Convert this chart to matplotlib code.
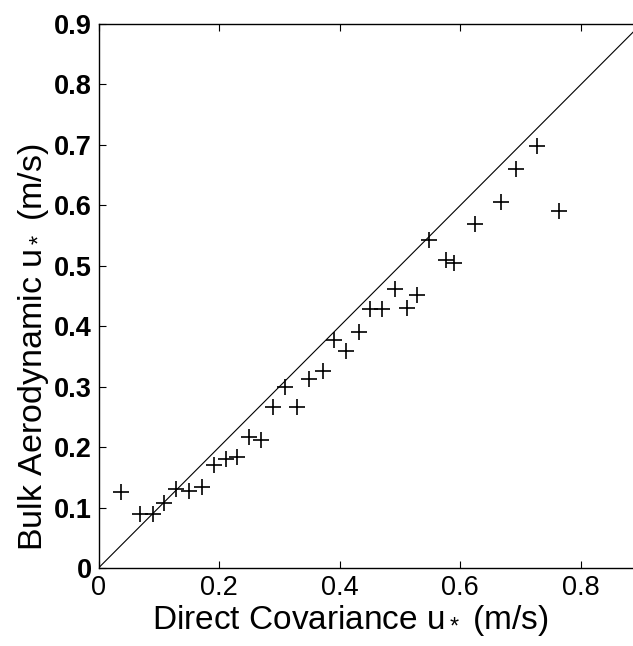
import matplotlib
matplotlib.use("Agg")
import matplotlib.pyplot as plt

plt.rcParams['font.family'] = ['Liberation Sans', 'DejaVu Sans']
plt.rcParams['mathtext.fontset'] = 'custom'
plt.rcParams['mathtext.rm'] = 'Liberation Sans'
plt.rcParams['mathtext.it'] = 'Liberation Sans'
plt.rcParams['mathtext.bf'] = 'Liberation Sans:bold'
plt.rcParams['mathtext.default'] = 'regular'

direct_cov = [0.0365, 0.068, 0.091, 0.108, 0.128, 0.150, 0.171, 0.1915, 0.2115, 0.229,
              0.250, 0.269, 0.290, 0.310, 0.329, 0.349, 0.372, 0.391, 0.410, 0.432,
              0.450, 0.470, 0.492, 0.511, 0.5286, 0.5486, 0.577, 0.589, 0.625, 0.6675,
              0.692, 0.7267, 0.764]
bulk_aero = [0.125, 0.089, 0.089, 0.107, 0.131, 0.127, 0.134, 0.170, 0.181, 0.184,
             0.216, 0.211, 0.2665, 0.2997, 0.2665, 0.313, 0.326, 0.377, 0.359, 0.391,
             0.429, 0.429, 0.462, 0.430, 0.452, 0.543, 0.510, 0.5045, 0.569, 0.6055,
             0.660, 0.6975, 0.591]
one_to_one = [0.0, 0.9]
xticks = [0, 0.2, 0.4, 0.6, 0.8]
yticks = [0, 0.1, 0.2, 0.3, 0.4, 0.5, 0.6, 0.7, 0.8, 0.9]

fig = plt.figure(figsize=(6.33, 6.46), dpi=100)
ax = fig.add_axes([98.5/633, 78/646, 0.9*603/633, 544/646])

ax.plot(one_to_one, one_to_one, color='black', lw=0.8)
ax.plot(direct_cov, bulk_aero, linestyle='none', marker='+', color='black',
        markersize=11, markeredgewidth=1.2)

ax.set_xlim(0, 0.9)
ax.set_ylim(0, 0.9)
ax.set_xticks(xticks)
ax.set_xticklabels(['0', '0.2', '0.4', '0.6', '0.8'])
ax.set_yticks(yticks)
ax.set_yticklabels(['0', '0.1', '0.2', '0.3', '0.4', '0.5', '0.6', '0.7', '0.8', '0.9'])
ax.tick_params(direction='in', length=5, width=0.8, labelsize=19.5, top=True, right=True,
               pad=5)
for lbl in ax.get_yticklabels():
    lbl.set_fontweight('bold')
for s in ax.spines.values():
    s.set_linewidth(1.0)

ax.set_xlabel('Direct Covariance u$_*$ (m/s)', fontsize=24)
ax.set_ylabel('Bulk Aerodynamic u$_*$ (m/s)', fontsize=24.5)
ax.xaxis.set_label_coords(0.463, -0.064)
ax.yaxis.set_label_coords(-0.088, 0.406)

fig.savefig('out.png', dpi=100)
